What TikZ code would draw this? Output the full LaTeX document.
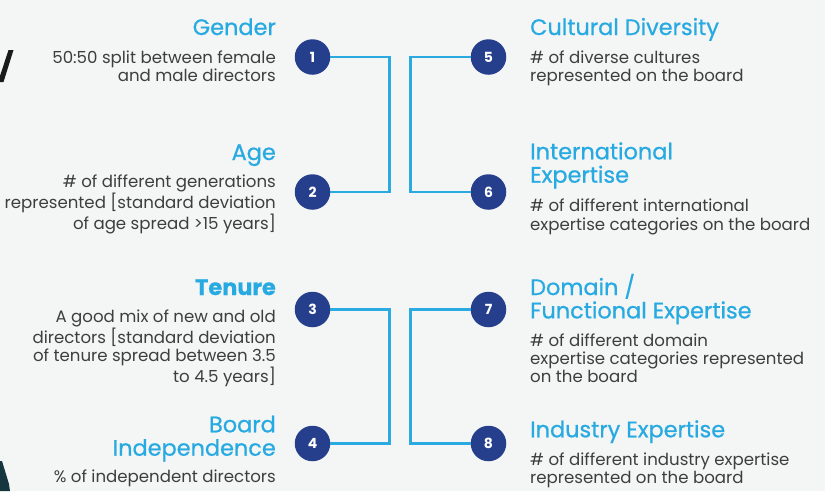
\documentclass[tikz,border=0pt]{standalone}
\usepackage{fontspec}
\setmainfont{Poppins}
\newfontfamily\headfam{Poppins}[FakeBold=0.7]
\usetikzlibrary{calc}

\definecolor{pagebg}{HTML}{F4F5F5}
\definecolor{titleblue}{HTML}{27AAE1}
\definecolor{linkblue}{HTML}{29ABE2}
\definecolor{badgenavy}{HTML}{253F8C}
\definecolor{bodygray}{HTML}{3E3E3E}
\definecolor{inkdark}{HTML}{1A1A1A}
\definecolor{tealdark}{HTML}{15353F}

\newcommand{\bodyfont}{\fontsize{16.6pt}{18.4pt}\selectfont}
\newcommand{\headfont}{\headfam\fontsize{22.4pt}{23.4pt}\selectfont}

\tikzset{
  badge/.style={circle, fill=badgenavy, minimum size=35.5pt, inner sep=0pt,
    text=white, font=\fontsize{14pt}{16pt}\selectfont\bfseries},
  link/.style={draw=linkblue, line width=2.6pt},
  headL/.style={anchor=base east, inner sep=0pt, text=titleblue},
  headR/.style={anchor=base west, inner sep=0pt, text=titleblue},
  bodyL/.style={anchor=base east, inner sep=0pt, text=bodygray},
  bodyR/.style={anchor=base west, inner sep=0pt, text=bodygray},
}

\newcommand{\leftblock}[1]{\parbox[t]{300pt}{\raggedleft #1}}
\newcommand{\rightblock}[1]{\parbox[t]{295pt}{\raggedright #1}}

\begin{document}
\begin{tikzpicture}[x=1pt, y=-1pt]
  % canvas
  \fill[pagebg] (0,0) rectangle (825,491);
  \useasboundingbox (0,0) rectangle (825,491);

  % fragments of neighbouring artwork at the left edge
  \fill[inkdark] (8.5,50) -- (13.5,50) -- (3.5,82) -- (0,82) -- (0,76) -- cycle;
  \fill[tealdark] (0,461) -- (2,461) -- (9,484) -- (10,491) -- (0,491) -- cycle;

  % numbered badges
  \node[badge] (c1) at (312.5,57) {1};
  \node[badge] (c2) at (312.5,192) {2};
  \node[badge] (c3) at (312.5,309.5) {3};
  \node[badge] (c4) at (312.5,443.5) {4};
  \node[badge] (c5) at (488.5,57) {5};
  \node[badge] (c6) at (488.5,192) {6};
  \node[badge] (c7) at (488.5,309.5) {7};
  \node[badge] (c8) at (488.5,443.5) {8};

  % bracket guides
  \coordinate (jl) at (389.3,0);
  \coordinate (jr) at (410.3,0);
  \draw[link] (c1.east) -| (jl |- c2) -- (c2.east);
  \draw[link] (c5.west) -| (jr |- c6) -- (c6.west);
  \draw[link] (c3.east) -| (jl |- c4) -- (c4.east);
  \draw[link] (c7.west) -| (jr |- c8) -- (c8.west);

  % left column
  \node[headL] (t1) at (276,35) {\headfont Gender};
  \node[bodyL] (b1) at (276,63.3) {\leftblock{\bodyfont 50:50 split between female\\and male directors}};

  \node[headL] (t2) at (276,160) {\headfont Age};
  \node[bodyL] (b2) at (276,187.3) {\leftblock{\bodyfont \# of different generations\\represented [standard deviation\\of age spread >15 years]}};

  \node[headL] (t3) at (276,295) {\headfont\bfseries Tenure};
  \node[bodyL] (b3) at (276,322.3) {\leftblock{\bodyfont A good mix of new and old\\directors [standard deviation\\of tenure spread between 3.5\\to 4.5 years]}};

  \node[headL] (t4) at (276,432.3) {\leftblock{\headfont Board\\Independence}};
  \node[bodyL] (b4) at (276,482.7) {\leftblock{\bodyfont \% of independent directors}};

  % right column
  \node[headR] (t5) at (530,35) {\headfont Cultural Diversity};
  \node[bodyR] (b5) at (530,63.3) {\rightblock{\bodyfont \# of diverse cultures\\represented on the board}};

  \node[headR] (t6) at (530,159.3) {\rightblock{\headfont International\\Expertise}};
  \node[bodyR] (b6) at (530,211.7) {\rightblock{\bodyfont \# of different international\\expertise categories on the board}};

  \node[headR] (t7) at (530,295) {\rightblock{\headfont Domain /\\Functional Expertise}};
  \node[bodyR] (b7) at (530,346) {\rightblock{\bodyfont \# of different domain\\expertise categories represented\\on the board}};

  \node[headR] (t8) at (530,437.3) {\headfont Industry Expertise};
  \node[bodyR] (b8) at (530,465) {\rightblock{\bodyfont \# of different industry expertise\\represented on the board}};
\end{tikzpicture}
\end{document}
